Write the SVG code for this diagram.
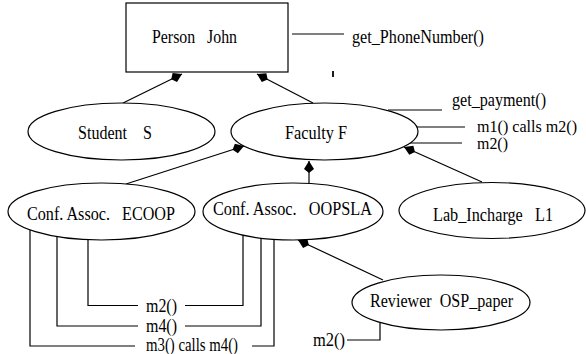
<svg xmlns="http://www.w3.org/2000/svg" width="586" height="354" viewBox="0 0 586 354">
<style>
.t{font-size:18.5px;fill:#000;white-space:pre}
.s{fill:#fff;stroke:#000;stroke-width:1.2}
.c{fill:none;stroke:#000;stroke-width:1.2}
</style>
<defs>
<marker id="ah" markerUnits="userSpaceOnUse" viewBox="-13 -6 14 12" markerWidth="14" markerHeight="12" refX="0" refY="0" orient="auto">
<path d="M0,0 L-8,-5 L-12,0 L-8,5 Z" fill="#000"/>
</marker>
</defs>
<rect width="586" height="354" fill="#fff"/>
<g id="connectors" class="c">
<line x1="123" y1="103" x2="182" y2="74" marker-end="url(#ah)"/>
<line x1="313" y1="103" x2="257" y2="74" marker-end="url(#ah)"/>
<line x1="126" y1="184" x2="244" y2="146" marker-end="url(#ah)"/>
<line x1="309" y1="183" x2="309" y2="161" marker-end="url(#ah)"/>
<line x1="482" y1="182" x2="404" y2="147" marker-end="url(#ah)"/>
<line x1="383" y1="280" x2="298" y2="240" marker-end="url(#ah)"/>
<line x1="292" y1="34" x2="344" y2="34"/>
<line x1="388" y1="110" x2="442" y2="110"/>
<line x1="417" y1="127" x2="465" y2="127"/>
<line x1="410" y1="143" x2="462" y2="143"/>
<polyline points="88,240 88,305.5 138,305.5"/>
<polyline points="185,305.5 243,305.5 243,235"/>
<polyline points="57,236.5 57,326 138,326"/>
<polyline points="185,326 261,326 261,238"/>
<polyline points="30,230 30,346 135,346"/>
<polyline points="252,346 274,346 274,239.3"/>
<polyline points="380,322.5 380,340 347,340"/>
<line x1="333" y1="71" x2="333" y2="77" stroke-width="1.8"/>
</g>
<g font-family="'Liberation Serif', 'Times New Roman', 'DejaVu Serif', serif">
<g id="person">
<rect class="s" x="126" y="3" width="162" height="69"/>
<text class="t" x="152" y="42.5" textLength="85" lengthAdjust="spacingAndGlyphs">Person   John</text>
<text class="t" x="352" y="42.5" textLength="132" lengthAdjust="spacingAndGlyphs">get_PhoneNumber()</text>
</g>
<g id="student">
<ellipse class="s" cx="121.5" cy="131.5" rx="93.5" ry="28.5"/>
<text class="t" x="78" y="139" textLength="74" lengthAdjust="spacingAndGlyphs">Student    S</text>
</g>
<g id="faculty">
<ellipse class="s" cx="324.5" cy="131.5" rx="93.5" ry="28.5"/>
<text class="t" x="285" y="139" textLength="62" lengthAdjust="spacingAndGlyphs">Faculty F</text>
<text class="t" x="452" y="105.5" textLength="94" lengthAdjust="spacingAndGlyphs">get_payment()</text>
<text class="t" x="477" y="132" textLength="100" lengthAdjust="spacingAndGlyphs" style="font-size:16px">m1() calls m2()</text>
<text class="t" x="477" y="149" textLength="31" lengthAdjust="spacingAndGlyphs" style="font-size:16px">m2()</text>
</g>
<g id="ecoop">
<ellipse class="s" cx="101.5" cy="211.5" rx="93.5" ry="28.5"/>
<text class="t" x="27" y="219.5" textLength="148" lengthAdjust="spacingAndGlyphs">Conf. Assoc.   ECOOP</text>
</g>
<g id="oopsla">
<ellipse class="s" cx="293" cy="211.5" rx="90" ry="28.5"/>
<text class="t" x="213" y="215" textLength="159" lengthAdjust="spacingAndGlyphs">Conf. Assoc.   OOPSLA</text>
</g>
<g id="lab">
<ellipse class="s" cx="492" cy="210.5" rx="93" ry="28"/>
<text class="t" x="433" y="221" textLength="120" lengthAdjust="spacingAndGlyphs">Lab_Incharge   L1</text>
</g>
<g id="reviewer">
<ellipse class="s" cx="441" cy="302.5" rx="89" ry="27.5"/>
<text class="t" x="370" y="306.5" textLength="143" lengthAdjust="spacingAndGlyphs">Reviewer  OSP_paper</text>
<text class="t" x="313" y="346" textLength="32" lengthAdjust="spacingAndGlyphs">m2()</text>
</g>
<g id="shared-methods">
<text class="t" x="146" y="312" textLength="31" lengthAdjust="spacingAndGlyphs">m2()</text>
<text class="t" x="146" y="332" textLength="31" lengthAdjust="spacingAndGlyphs">m4()</text>
<text class="t" x="146" y="350.5" textLength="92" lengthAdjust="spacingAndGlyphs">m3() calls m4()</text>
</g>
</g>
</svg>
